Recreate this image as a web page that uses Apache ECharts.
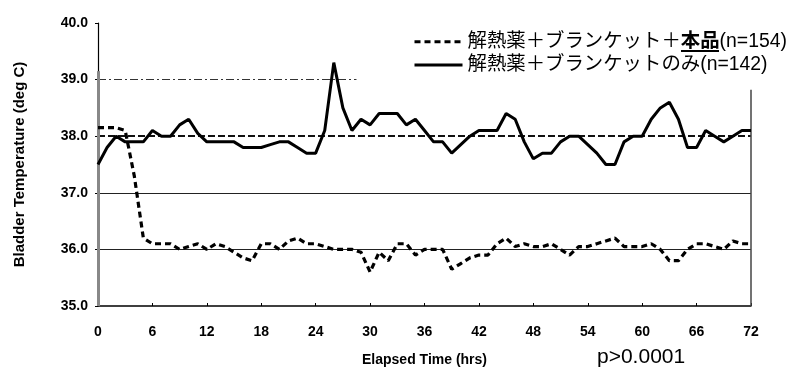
<!DOCTYPE html>
<html>
<head>
<meta charset="utf-8">
<script src="https://cdn.jsdelivr.net/npm/echarts@6/dist/echarts.min.js"></script>
<style>
html,body{margin:0;padding:0;background:#fff;}
#c{width:794px;height:370px;}
</style>
</head>
<body>
<div id="c"></div>
<script>
// ---- data ----
var hours = [0,1,2,3,4,5,6,7,8,9,10,11,12,13,14,15,16,17,18,19,20,21,22,23,24,25,26,27,28,29,30,31,32,33,34,35,36,37,38,39,40,41,42,43,44,45,46,47,48,49,50,51,52,53,54,55,56,57,58,59,60,61,62,63,64,65,66,67,68,69,70,71,72];
var productTemp = [38.15,38.15,38.15,38.1,37.3,36.2,36.1,36.1,36.1,36.0,36.05,36.1,36.0,36.1,36.05,35.95,35.85,35.8,36.1,36.1,36.0,36.15,36.2,36.1,36.1,36.05,36.0,36.0,36.0,35.95,35.6,35.95,35.8,36.1,36.1,35.9,36.0,36.0,36.0,35.65,35.75,35.85,35.9,35.9,36.1,36.2,36.05,36.1,36.05,36.05,36.1,36.0,35.9,36.05,36.05,36.1,36.15,36.2,36.05,36.05,36.05,36.1,36.0,35.8,35.8,36.0,36.1,36.1,36.05,36.0,36.15,36.1,36.1];
var controlTemp = [37.5,37.8,38.0,37.9,37.9,37.9,38.1,38.0,38.0,38.2,38.3,38.05,37.9,37.9,37.9,37.9,37.8,37.8,37.8,37.85,37.9,37.9,37.8,37.7,37.7,38.1,39.3,38.5,38.1,38.3,38.2,38.4,38.4,38.4,38.2,38.3,38.1,37.9,37.9,37.7,37.85,38.0,38.1,38.1,38.1,38.4,38.3,37.9,37.6,37.7,37.7,37.9,38.0,38.0,37.85,37.7,37.5,37.5,37.9,38.0,38.0,38.3,38.5,38.6,38.3,37.8,37.8,38.1,38.0,37.9,38.0,38.1,38.1];
var seriesNames = ['解熱薬＋ブランケット＋本品(n=154)', '解熱薬＋ブランケットのみ(n=142)'];
var xTicks = [0,6,12,18,24,30,36,42,48,54,60,66,72];
var yMin = 35, yMax = 40;
var refLinesSolid = [36.0, 37.0];
var refLineDashed = 38.0;
var refLine39 = 39.0, refLine39End = 28.5;
var xAxisTitle = 'Elapsed Time (hrs)';
var yAxisTitle = 'Bladder Temperature (deg C)';
var pValueText = 'p>0.0001';

function pairs(xs, ys){ var r=[]; for(var i=0;i<xs.length;i++) r.push([xs[i], ys[i]]); return r; }

var chart = echarts.init(document.getElementById('c'), null, {renderer:'canvas'});
var latin = 'Liberation Sans, Arial, Noto Sans CJK JP, sans-serif';

var option = {
  backgroundColor: '#fff',
  animation: false,
  grid: {left: 98, right: 43, top: 23, bottom: 64, containLabel: false, outerBoundsMode: 'none'},
  legend: {
    orient: 'vertical',
    left: 408, top: 27,
    itemWidth: 48, itemHeight: 14, itemGap: 4,
    selectedMode: false,
    data: seriesNames,
    itemStyle: {opacity: 0},
    lineStyle: {width: 3},
    textStyle: {color: '#000', fontSize: 19.4, fontFamily: latin,
      rich: {
        a: {fontSize: 19.4, fontFamily: latin, color: '#000'},
        b: {fontSize: 19.4, fontFamily: latin, fontWeight: 'bold', color: '#000'}
      }
    },
    formatter: function(name){
      if (name === seriesNames[0]) return '{a|解熱薬＋ブランケット＋}{b|本品}{a|(n=154)}';
      return '{a|' + name + '}';
    }
  },
  xAxis: {
    type: 'value', min: 0, max: 72, interval: 6,
    name: xAxisTitle, nameLocation: 'middle', nameGap: 47,
    nameTextStyle: {fontSize: 14, fontWeight: 'bold', fontFamily: latin, color: '#000'},
    axisLine: {lineStyle: {color: '#000', width: 1.5}},
    axisTick: {show: true, inside: true, length: 3, lineStyle: {color: '#000'}},
    axisLabel: {fontSize: 14, fontWeight: 'bold', fontFamily: latin, color: '#000', margin: 19},
    splitLine: {show: false}
  },
  yAxis: {
    type: 'value', min: yMin, max: yMax, interval: 1,
    name: yAxisTitle, nameLocation: 'middle', nameGap: 71, nameRotate: 90,
    nameTextStyle: {fontSize: 15, fontWeight: 'bold', fontFamily: latin, color: '#000'},
    axisLine: {show: true, lineStyle: {color: '#000', width: 1.2}},
    axisTick: {show: true, length: 3, lineStyle: {color: '#000'}},
    axisLabel: {fontSize: 14, fontWeight: 'bold', fontFamily: latin, color: '#000', margin: 10,
      formatter: function(v){ return v.toFixed(1); }},
    splitLine: {show: false}
  },
  series: [
    {
      name: seriesNames[0], type: 'line', data: pairs(hours, productTemp),
      symbol: 'none', z: 5,
      lineStyle: {color: '#000', width: 3.2, type: [6, 4]},
      itemStyle: {color: '#000'}
    },
    {
      name: seriesNames[1], type: 'line', data: pairs(hours, controlTemp),
      symbol: 'none', z: 6,
      lineStyle: {color: '#000', width: 3},
      itemStyle: {color: '#000'},
      markLine: {
        silent: true, symbol: 'none', animation: false,
        label: {show: false},
        data: [
          {yAxis: refLinesSolid[0], lineStyle: {color: '#222', width: 1.2, type: 'solid'}},
          {yAxis: refLinesSolid[1], lineStyle: {color: '#222', width: 1.2, type: 'solid'}},
          {yAxis: refLineDashed, lineStyle: {color: '#111', width: 2, type: [7, 3]}},
          [{coord: [0, refLine39], lineStyle: {color: '#333', width: 1, type: [8, 3, 2, 3]}}, {coord: [refLine39End, refLine39]}],
          [{coord: [0, yMin], lineStyle: {color: '#888', width: 3, type: 'solid'}}, {coord: [0, 39.15]}],
          [{coord: [72, yMin], lineStyle: {color: '#444', width: 1.5, type: 'solid'}}, {coord: [72, 38.82]}]
        ]
      }
    }
  ],
  graphic: [
    {type: 'text', left: 597, top: 347, style: {text: pValueText, fontSize: 21, fontFamily: latin, fill: '#000'}},
    {type: 'line', shape: {x1: 681, y1: 51, x2: 719, y2: 51}, style: {stroke: '#000', lineWidth: 2}}
  ]
};
chart.setOption(option);
</script>
</body>
</html>
